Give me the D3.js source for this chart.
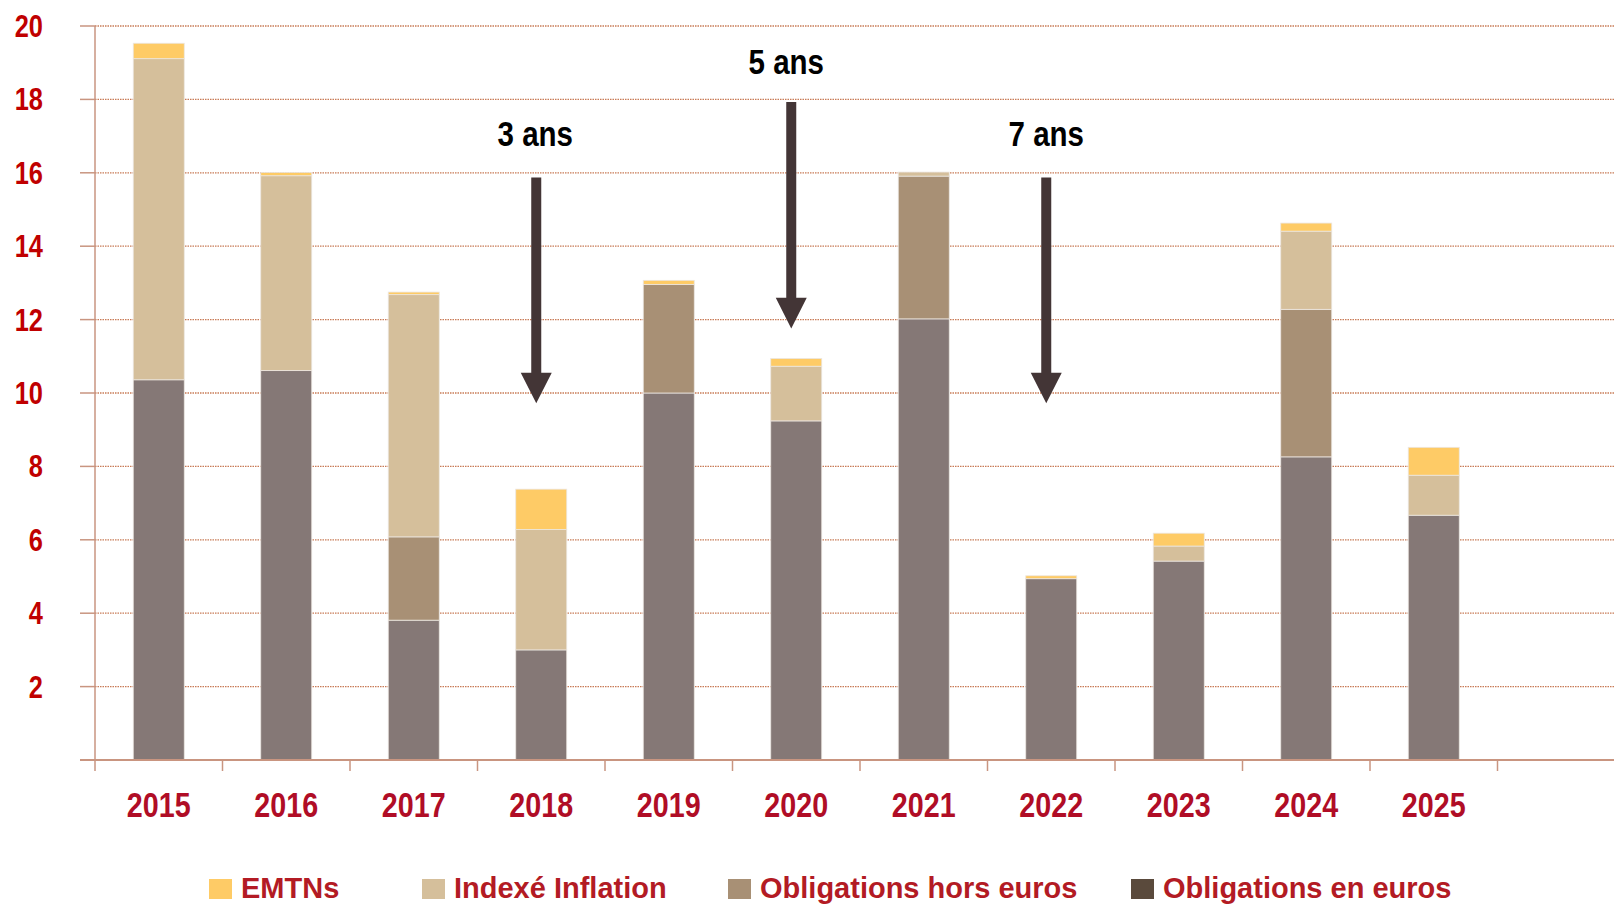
<!DOCTYPE html>
<html><head><meta charset="utf-8">
<script src="https://cdn.jsdelivr.net/npm/d3@7"></script>
<style>
html,body{margin:0;padding:0;background:#fff;}
svg{display:block;}
</style></head>
<body>
<svg id="c" width="1614" height="905"></svg>
<script>
// ---- data ----
const years = ["2015","2016","2017","2018","2019","2020","2021","2022","2023","2024","2025"];
const oblEnEuros   = [10.36,10.61,3.81,3.00,10.00,9.24,12.02,4.94,5.42,8.26,6.67];
const oblHorsEuros = [0,0,2.27,0,2.96,0,3.89,0,0,4.02,0];
const indexeInfl   = [8.75,5.31,6.60,3.28,0,1.49,0.11,0,0.41,2.13,1.09];
const emtns        = [0.42,0.09,0.07,1.10,0.11,0.21,0,0.08,0.35,0.22,0.76];
const yTicks = [2,4,6,8,10,12,14,16,18,20];
const seriesNames = ["Obligations en euros","Obligations hors euros","Indexé Inflation","EMTNs"];
const legendOrder = ["EMTNs","Indexé Inflation","Obligations hors euros","Obligations en euros"];
// annotations: label, year, top value, tip value, label baseline value
const annYears  = ["2018","2020","2022"];
const annLabels = ["3 ans","5 ans","7 ans"];
const annTop    = [15.87,17.93,15.87];
const annTip    = [9.72,11.76,9.72];
const annText   = [16.72,18.69,16.72];

// ---- styles ----
const barColors = {"Obligations en euros":"#857876","Obligations hors euros":"#a89075","Indexé Inflation":"#d5bf9b","EMTNs":"#fecb66"};
const legendColors = {"Obligations en euros":"#5a4a3c","Obligations hors euros":"#a89075","Indexé Inflation":"#d5bf9b","EMTNs":"#fecb66"};
const axisColor = "#c99580";
const gridColor = "#c0653a";
const annTextShift = [-1,-5,0];

const svg = d3.select("#c");
const x0 = 95, step = 127.5;
const x = d3.scaleBand().domain(years).range([x0, x0 + years.length*step]).paddingInner(0.6).paddingOuter(0.3);
const y = d3.scaleLinear().domain([0,20]).range([760,26]);
const W = 1614;

// gridlines
svg.append("g").selectAll("line").data(yTicks).join("line")
  .attr("x1",x0).attr("x2",W).attr("y1",d=>y(d)).attr("y2",d=>y(d))
  .attr("stroke",gridColor).attr("stroke-width",1.3).attr("stroke-dasharray","1.5,1").attr("opacity",0.85);
// y ticks (left of axis)
svg.append("g").selectAll("line").data([0].concat(yTicks)).join("line")
  .attr("x1",80).attr("x2",x0).attr("y1",d=>y(d)).attr("y2",d=>y(d))
  .attr("stroke",axisColor).attr("stroke-width",1.5);

// stacked bars
const rows = years.map((yr,i)=>({year:yr,"Obligations en euros":oblEnEuros[i],"Obligations hors euros":oblHorsEuros[i],"Indexé Inflation":indexeInfl[i],"EMTNs":emtns[i]}));
const stack = d3.stack().keys(seriesNames)(rows);
svg.append("g").selectAll("g").data(stack).join("g")
  .attr("fill",d=>barColors[d.key])
  .selectAll("rect").data(d=>d.filter(p=>p[1]-p[0]>0)).join("rect")
  .attr("x",d=>x(d.data.year)).attr("width",x.bandwidth())
  .attr("y",d=>y(d[1])).attr("height",d=>y(d[0])-y(d[1]))
  .attr("stroke","#ece6e0").attr("stroke-width",0.8);

// axes lines
svg.append("line").attr("x1",x0).attr("x2",x0).attr("y1",y(20)).attr("y2",771).attr("stroke",axisColor).attr("stroke-width",1.5);
svg.append("line").attr("x1",80).attr("x2",W).attr("y1",y(0)).attr("y2",y(0)).attr("stroke",axisColor).attr("stroke-width",2);
// x ticks at band boundaries
svg.append("g").selectAll("line").data(years).join("line")
  .attr("x1",d=>x(d)+x.bandwidth()+x.step()*0.3).attr("x2",d=>x(d)+x.bandwidth()+x.step()*0.3)
  .attr("y1",y(0)).attr("y2",771).attr("stroke",axisColor).attr("stroke-width",1.5);

// narrow text helper
function narrowText(parent, tx, ty, str, size, color, anchor, sx){
  const g = parent.append("g").attr("transform",`translate(${tx},${ty}) scale(${sx||0.82},1)`);
  g.append("text").attr("x",0).attr("y",0).attr("text-anchor",anchor)
   .attr("font-family","'Liberation Sans',Arial,sans-serif").attr("font-weight","bold")
   .attr("font-size",size).attr("fill",color).text(str);
  return g;
}
// y labels
yTicks.forEach(t=>narrowText(svg,43,y(t)+11,String(t),31,"#c00000","end"));
// x labels
years.forEach(yr=>narrowText(svg,x(yr)+x.bandwidth()/2,817,yr,35,"#b00d26","middle"));

// annotations
const arrowColor = "#433536";
annYears.forEach((yr,i)=>{
  const cx = x(yr)+x.bandwidth()/2 - 5;
  const yt = y(annTop[i]), yp = y(annTip[i]), hh = 30.6, hw = 15.5, sw = 5;
  svg.append("path").attr("fill",arrowColor)
    .attr("d",`M${cx-sw},${yt}L${cx+sw},${yt}L${cx+sw},${yp-hh}L${cx+hw},${yp-hh}L${cx},${yp}L${cx-hw},${yp-hh}L${cx-sw},${yp-hh}Z`);
  narrowText(svg,cx+annTextShift[i],y(annText[i]),annLabels[i],36,"#000","middle");
});

// legend
const legX = [209,422,728,1131];
legendOrder.forEach((k,i)=>{
  svg.append("rect").attr("x",legX[i]).attr("y",879).attr("width",23).attr("height",20).attr("fill",legendColors[k]);
  svg.append("text").attr("x",legX[i]+32).attr("y",898)
    .attr("font-family","'Liberation Sans',Arial,sans-serif").attr("font-weight","bold")
    .attr("font-size",29).attr("fill","#b31b24").text(k);
});
</script>
</body></html>
